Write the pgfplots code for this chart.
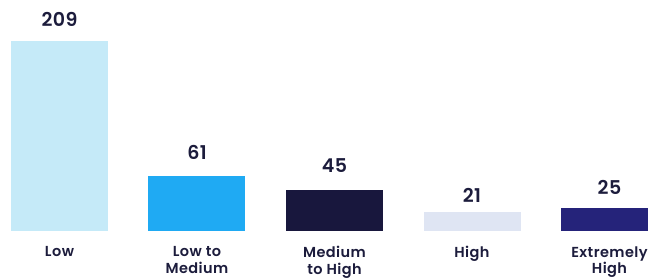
\documentclass[border=0pt]{standalone}
\usepackage{fontspec}
\setmainfont{Poppins}[UprightFont=* Medium, BoldFont=* SemiBold]
\usepackage{pgfplots}
\pgfplotsset{compat=1.18}
\definecolor{cA}{HTML}{C5EAF8}
\definecolor{cB}{HTML}{1FAAF3}
\definecolor{cC}{HTML}{18173D}
\definecolor{cD}{HTML}{DFE5F3}
\definecolor{cE}{HTML}{25237A}
\definecolor{txt}{HTML}{1C1C3C}
\begin{document}
\begin{tikzpicture}[x=1pt,y=1pt]
\useasboundingbox (0,-49) rectangle (648,231);
\begin{axis}[
  at={(0,0)}, anchor=south west,
  scale only axis, width=648pt, height=231pt,
  xmin=-0.4327, xmax=4.28, ymin=0, ymax=254.1,
  axis line style={draw=none},
  major tick length=0pt,
  ytick=\empty,
  xtick={0,1,2,3,4},
  xticklabels={Low, Low to\\Medium, Medium\\to High, High, Extremely\\High},
  xticklabel style={align=center, font=\fontsize{14.5}{16.5}\selectfont\bfseries\addfontfeatures{LetterSpace=3}, text=txt, anchor=north, yshift=-12pt},
  ybar, bar width=97pt, bar shift=0pt,
  /pgf/number format/assume math mode=true,
  nodes near coords,
  every node near coord/.style={anchor=base, font=\fontsize{19}{22}\selectfont\bfseries\addfontfeatures{LetterSpace=2}, text=txt},
]
\addplot[fill=cA, draw=none, every node near coord/.append style={yshift=14pt}] coordinates {(0,209)};
\addplot[fill=cB, draw=none, every node near coord/.append style={yshift=16.5pt}] coordinates {(1,61)};
\addplot[fill=cC, draw=none, every node near coord/.append style={yshift=18pt}] coordinates {(2,45)};
\addplot[fill=cD, draw=none, every node near coord/.append style={yshift=9pt}] coordinates {(3,21)};
\addplot[fill=cE, draw=none, every node near coord/.append style={yshift=14pt}] coordinates {(4,25)};
\end{axis}
\end{tikzpicture}
\end{document}
